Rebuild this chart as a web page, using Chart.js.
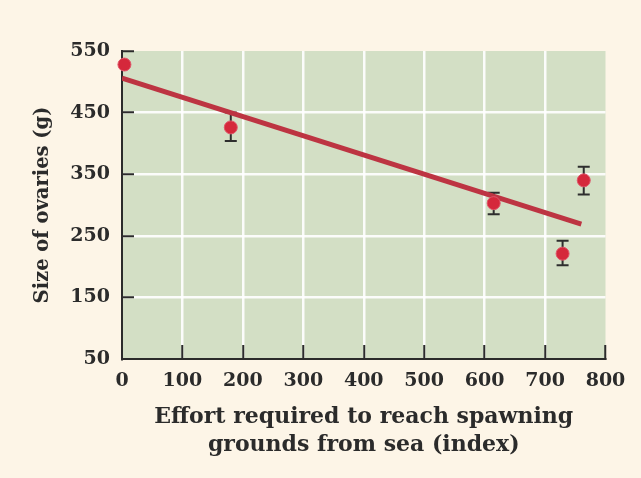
<!DOCTYPE html>
<html>
<head>
<meta charset="utf-8">
<script src="https://cdn.jsdelivr.net/npm/chart.js@4/dist/chart.umd.min.js"></script>
<style>
  html, body { margin: 0; padding: 0; background: #fdf5e7; }
  #wrap { width: 641px; height: 478px; }
</style>
</head>
<body>
<div id="wrap"><canvas id="chart"></canvas></div>
<script>
// salmon data: effort index vs ovary size, with error bars
const effort = [4, 180, 615, 729, 764];
const ovarySize = [528, 426, 303, 221, 340];
const errLow = [528, 404, 285, 202, 317];
const errHigh = [528, 450, 320, 242, 362];

// regression line end points
const fitX = [0, 760];
const fitY = [506, 269];

const xMin = 0, xMax = 800, xStep = 100;
const yMin = 50, yMax = 550, yStep = 100;

const ink = "#2b2b2b";
const serif = "'DejaVu Serif', serif";

const plotBackground = {
  id: "plotBackground",
  beforeDraw(chart) {
    const { ctx, chartArea: a } = chart;
    ctx.save();
    ctx.fillStyle = "#d3dfc5";
    ctx.fillRect(a.left, a.top, a.right - a.left, a.bottom - a.top);
    ctx.restore();
  },
};

const errorBars = {
  id: "errorBars",
  beforeDatasetsDraw(chart) {
    const { ctx } = chart;
    const x = chart.scales.x, y = chart.scales.y;
    ctx.save();
    ctx.strokeStyle = "#2e2e2e";
    ctx.lineWidth = 2;
    effort.forEach((e, i) => {
      if (errHigh[i] <= errLow[i]) return;
      const px = x.getPixelForValue(e);
      const top = y.getPixelForValue(errHigh[i]);
      const bot = y.getPixelForValue(errLow[i]);
      ctx.beginPath();
      ctx.moveTo(px, top); ctx.lineTo(px, bot);
      ctx.moveTo(px - 6, top); ctx.lineTo(px + 6, top);
      ctx.moveTo(px - 6, bot); ctx.lineTo(px + 6, bot);
      ctx.stroke();
    });
    ctx.restore();
  },
};

const ctx = document.getElementById("chart").getContext("2d");

new Chart(ctx, {
  type: "scatter",
  data: {
    datasets: [
      {
        label: "Ovary size",
        data: effort.map((e, i) => ({ x: e, y: ovarySize[i] })),
        backgroundColor: "#d5283b",
        borderColor: "#e0566a",
        borderWidth: 1,
        pointRadius: 6.5,
        clip: false,
        order: 1,
      },
      {
        label: "Fit",
        type: "line",
        data: fitX.map((e, i) => ({ x: e, y: fitY[i] })),
        borderColor: "#bd3442",
        borderWidth: 5,
        pointRadius: 0,
        fill: false,
        order: 2,
      },
    ],
  },
  options: {
    responsive: true,
    maintainAspectRatio: false,
    animation: false,
    layout: { padding: { top: 51, right: 35.5, bottom: 0, left: 0 } },
    plugins: {
      legend: { display: false },
      tooltip: { enabled: false },
    },
    scales: {
      x: {
        type: "linear",
        min: xMin,
        max: xMax,
        afterFit(scale) {
          scale.height = 119;
          scale.paddingLeft = 0;
          scale.paddingRight = 0;
        },
        ticks: {
          stepSize: xStep,
          color: ink,
          font: { family: serif, size: 19, weight: "bold" },
          padding: 25,
          maxRotation: 0,
        },
        grid: {
          color: (c) =>
            c.tick && (c.tick.value === xMin || c.tick.value === xMax)
              ? "transparent"
              : "rgba(255,255,255,0.9)",
          lineWidth: 2.5,
          tickLength: -14,
          tickWidth: 2,
          tickColor: (c) => (c.tick && c.tick.value === xMin ? "transparent" : ink),
        },
        border: { color: ink, width: 2 },
        title: {
          display: true,
          text: ["Effort required to reach spawning", "grounds from sea (index)"],
          color: ink,
          font: { family: serif, size: 22, weight: "bold", lineHeight: "28px" },
          padding: { top: 0, bottom: 19 },
        },
      },
      y: {
        type: "linear",
        min: yMin,
        max: yMax,
        afterFit(scale) {
          scale.width = 122;
          scale.paddingTop = 0;
          scale.paddingBottom = 0;
        },
        ticks: {
          stepSize: yStep,
          color: ink,
          font: { family: serif, size: 19, weight: "bold" },
          padding: 24,
        },
        grid: {
          color: (c) =>
            c.tick && (c.tick.value === yMin || c.tick.value === yMax)
              ? "transparent"
              : "rgba(255,255,255,0.9)",
          lineWidth: 2.5,
          tickLength: -12,
          tickWidth: 2,
          tickColor: (c) => (c.tick && c.tick.value === yMin ? "transparent" : ink),
        },
        border: { color: ink, width: 2 },
        title: {
          display: true,
          text: "Size of ovaries (g)",
          color: ink,
          font: { family: serif, size: 19.5, weight: "bold" },
          padding: { top: 31, bottom: 0 },
        },
      },
    },
  },
  plugins: [plotBackground, errorBars],
});
</script>
</body>
</html>
